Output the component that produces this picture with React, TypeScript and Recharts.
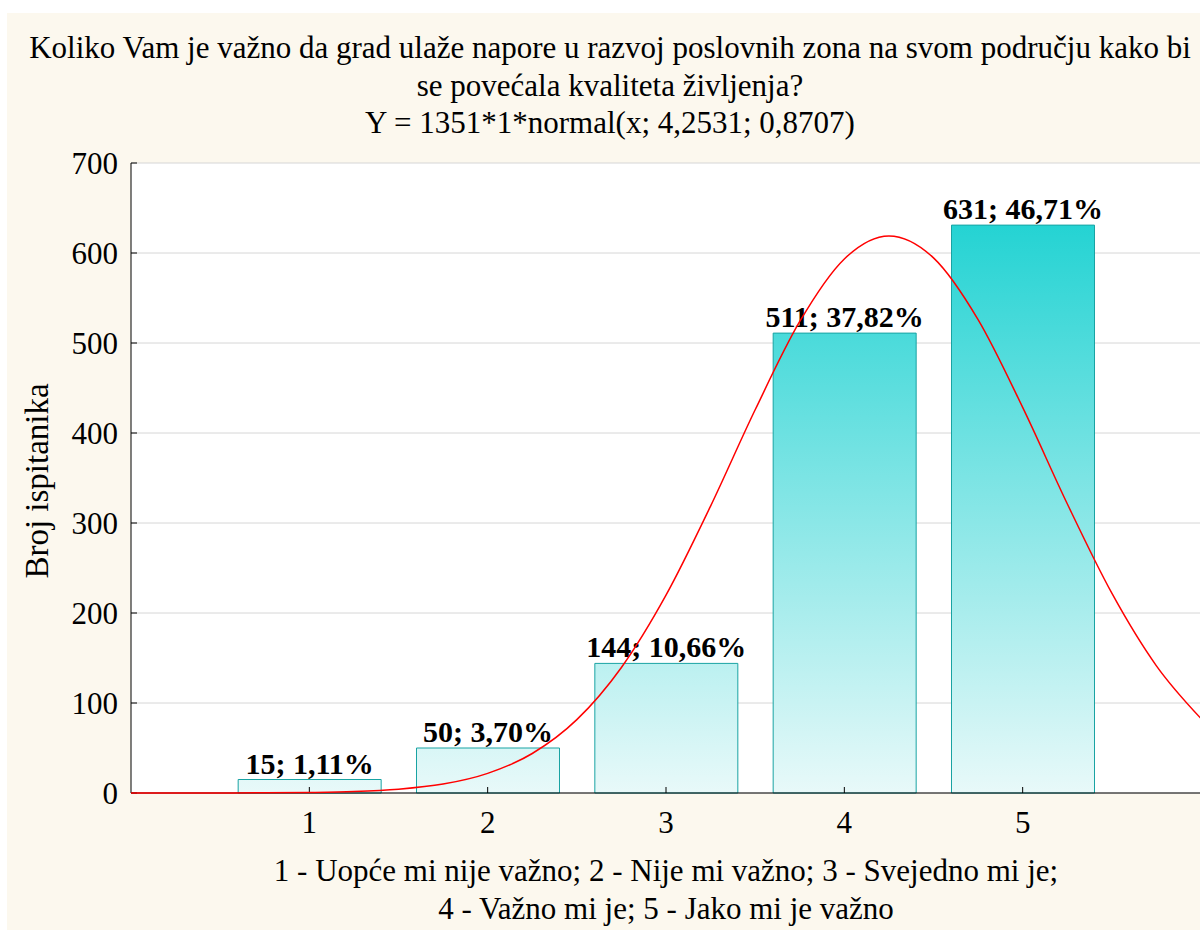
import { ComposedChart, LineChart, Bar, Line, XAxis, YAxis, CartesianGrid, LabelList } from "recharts";

const categories = [1, 2, 3, 4, 5];
const counts = [15, 50, 144, 511, 631];
const percents = [1.11, 3.7, 10.66, 37.82, 46.71];
const yTicks = [0, 100, 200, 300, 400, 500, 600, 700];

// fitted normal curve
const curveX = [0, 0.25, 0.5, 0.75, 1, 1.25, 1.5, 1.75, 2, 2.25, 2.5, 2.75, 3, 3.25, 3.5, 3.75, 4, 4.25, 4.5, 4.75, 5, 5.25, 5.5, 5.75, 6];
const curveY = [0, 0, 0.1, 0.2, 0.6, 1.6, 4.2, 9.9, 21.8, 43.9, 81.5, 139.5, 219.8, 318.8, 425.8, 523.9, 593.4, 619.0, 594.6, 526.0, 428.4, 321.4, 222.0, 141.3, 82.7];

const titleLines = [
  "Koliko Vam je važno da grad ulaže napore u razvoj poslovnih zona na svom području kako bi",
  "se povećala kvaliteta življenja?",
  "Y = 1351*1*normal(x; 4,2531; 0,8707)",
];
const yLabel = "Broj ispitanika";
const captionLines = [
  "1 - Uopće mi nije važno; 2 - Nije mi važno; 3 - Svejedno mi je;",
  "4 - Važno mi je; 5 - Jako mi je važno",
];

const FONT = "'Liberation Serif', 'Times New Roman', serif";

const barData = categories.map((c, i) => ({
  x: c,
  count: counts[i],
  label: `${counts[i]}; ${percents[i].toFixed(2).replace(".", ",")}%`,
}));
const curveData = curveX.map((x, i) => ({ x, y: curveY[i] }));

const W = 1215;
const H = 930;

export default function App() {
  return (
    <div style={{ position: "absolute", top: 0, left: 0, width: 1200, height: 930, overflow: "hidden", background: "#fff" }}>
      <div style={{ position: "absolute", left: 7, top: 13, right: 0, bottom: 0, background: "#fcf8ee" }} />
      <div style={{ position: "absolute", left: 0, top: 0 }}>
        <ComposedChart width={W} height={H} data={barData} margin={{ top: 163, right: 14, bottom: 97, left: 71 }}>
          <defs>
            <linearGradient id="barFill" gradientUnits="userSpaceOnUse" x1="0" y1="163" x2="0" y2="793">
              <stop offset="0%" stopColor="#0fcfcf" />
              <stop offset="100%" stopColor="#e8f9f9" />
            </linearGradient>
          </defs>
          <CartesianGrid vertical={false} stroke="#d6d6d6" fill="#ffffff" />
          <XAxis
            type="number"
            dataKey="x"
            domain={[0, 6]}
            ticks={categories}
            height={40}
            tickSize={-6}
            tickMargin={24}
            axisLine={{ stroke: "#000" }}
            tickLine={{ stroke: "#000" }}
            tick={{ fontSize: 31, fill: "#000", fontFamily: FONT }}
          />
          <XAxis
            xAxisId="top"
            orientation="top"
            type="number"
            dataKey="x"
            domain={[0, 6]}
            ticks={categories}
            height={0}
            tickSize={-6}
            axisLine={{ stroke: "#000" }}
            tickLine={{ stroke: "#000" }}
            tick={{ fill: "none" }}
          />
          <YAxis
            domain={[0, 700]}
            ticks={yTicks}
            width={60}
            tickSize={-6}
            tickMargin={19}
            axisLine={{ stroke: "#000" }}
            tickLine={{ stroke: "#000" }}
            tick={{ fontSize: 31, fill: "#000", fontFamily: FONT }}
          />
          <YAxis
            yAxisId="right"
            orientation="right"
            domain={[0, 700]}
            ticks={yTicks}
            width={0}
            tickSize={-6}
            axisLine={{ stroke: "#000" }}
            tickLine={{ stroke: "#000" }}
            tick={{ fill: "none" }}
          />
          <Bar dataKey="count" barSize={143} fill="url(#barFill)" stroke="#19a3a3" strokeWidth={1} isAnimationActive={false}>
            <LabelList
              dataKey="label"
              position="top"
              offset={6}
              style={{ fontSize: 30, fontWeight: "bold", fill: "#000", fontFamily: FONT }}
            />
          </Bar>
        </ComposedChart>
      </div>
      <div style={{ position: "absolute", left: 0, top: 0 }}>
        <LineChart width={W} height={H} data={curveData} margin={{ top: 163, right: 14, bottom: 137, left: 131 }}>
          <XAxis type="number" dataKey="x" domain={[0, 6]} hide />
          <YAxis domain={[0, 700]} hide />
          <Line type="monotone" dataKey="y" stroke="#ff0000" strokeWidth={1.5} dot={false} isAnimationActive={false} />
        </LineChart>
      </div>
      <svg width={1200} height={930} style={{ position: "absolute", left: 0, top: 0, pointerEvents: "none" }}>
        <g fontFamily={FONT} fill="#000">
          {titleLines.map((t, i) => (
            <text key={t} x={610} y={58 + i * 37.5} fontSize={31} textAnchor="middle">
              {t}
            </text>
          ))}
          <text x={48} y={481} fontSize={33} textAnchor="middle" transform="rotate(-90 48 481)">
            {yLabel}
          </text>
          {captionLines.map((t, i) => (
            <text key={t} x={666} y={881 + i * 38} fontSize={31} textAnchor="middle">
              {t}
            </text>
          ))}
        </g>
      </svg>
    </div>
  );
}
